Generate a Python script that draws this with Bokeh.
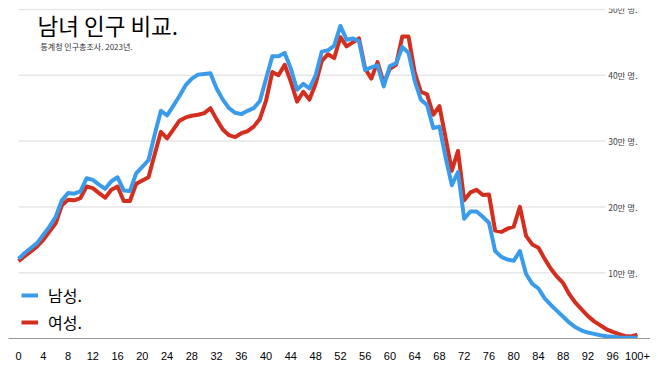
from bokeh.plotting import figure
from bokeh.models import Range1d, FixedTicker, Legend, LegendItem, Label, ColumnDataSource
from bokeh.core.properties import value
from bokeh.embed import file_html
from bokeh.resources import INLINE

# ---- data (population by single year of age, unit: 만 명) ----
ages = list(range(0, 101))
male = [12.1, 13.0, 13.75, 14.5, 15.75, 17.0, 18.5, 21.0, 22.1, 22.0,
        22.35, 24.35, 24.1, 23.4, 22.75, 23.9, 24.5, 22.5, 22.4, 25.1,
        26.1, 27.1, 31.0, 34.6, 33.9, 35.35, 36.85, 38.5, 39.5, 40.1,
        40.2, 40.3, 38.0, 36.3, 35.0, 34.3, 34.1, 34.6, 35.0, 36.1,
        39.5, 42.9, 42.9, 43.4, 41.0, 37.8, 38.7, 38.0, 40.0, 43.6,
        43.8, 44.5, 47.5, 45.4, 45.6, 45.2, 40.8, 41.2, 41.5, 38.3,
        41.4, 41.8, 44.3, 43.4, 39.2, 36.3, 35.5, 32.0, 32.2, 27.5,
        23.3, 25.3, 18.2, 19.3, 19.3, 18.5, 17.6, 13.3, 12.4, 12.0,
        11.8, 13.3, 9.8, 8.3, 7.6, 6.1, 5.1, 4.2, 3.3, 2.4,
        1.7, 1.2, 0.9, 0.7, 0.5, 0.35, 0.25, 0.15, 0.12, 0.1,
        0.1]
female = [11.75, 12.5, 13.25, 14.0, 15.0, 16.25, 17.5, 20.25, 21.1, 21.0,
          21.35, 23.1, 22.85, 22.1, 21.4, 22.6, 23.1, 20.9, 20.9, 23.5,
          24.0, 24.5, 28.0, 31.4, 30.4, 31.75, 33.1, 33.6, 33.85, 34.0,
          34.25, 35.0, 33.3, 31.75, 30.9, 30.6, 31.2, 31.5, 32.2, 33.4,
          36.2, 40.5, 40.0, 41.6, 39.0, 36.0, 37.5, 36.3, 38.7, 42.2,
          43.2, 42.6, 45.8, 44.4, 45.0, 45.6, 41.0, 39.5, 42.0, 38.8,
          41.0, 41.6, 45.9, 45.9, 40.5, 37.5, 37.1, 34.0, 35.3, 30.5,
          25.5, 28.5, 21.0, 22.2, 22.6, 21.8, 21.9, 16.4, 16.2, 16.7,
          17.0, 20.0, 15.6, 14.3, 13.8, 12.1, 10.6, 9.4, 8.4, 6.7,
          5.4, 4.4, 3.4, 2.6, 2.0, 1.4, 1.0, 0.65, 0.4, 0.3,
          0.6]
series_labels = ["남성.", "여성."]
x_ticks = list(range(0, 97, 4)) + [100]
x_tick_labels = [str(t) for t in range(0, 97, 4)] + ["100+"]
y_ticks = [10, 20, 30, 40, 50]
y_tick_labels = ["10만 명.", "20만 명.", "30만 명.", "40만 명.", "50만 명."]
title_text = "남녀 인구 비교."
subtitle_text = "통계청 인구총조사. 2023년."

BLUE = "#3A9BEA"
RED = "#D42E1F"
KR = "Noto Sans CJK KR"

p = figure(width=650, height=362, output_backend="svg", toolbar_location=None,
           x_range=Range1d(-1.62, 102.1), y_range=Range1d(0, 50.15),
           y_axis_location=None, min_border_left=8, min_border_right=0,
           min_border_top=8, min_border_bottom=21)
p.outline_line_color = None
p.xgrid.visible = False
p.ygrid.visible = False
p.background_fill_color = "white"
p.border_fill_color = "white"

# grid lines (stop before the in-plot labels)
p.segment(x0=0, x1=94.8, y0=y_ticks, y1=y_ticks, line_color="#e6e6e6", line_width=1.5)

# y labels inside the plot on the right
ysrc = ColumnDataSource(dict(x=[100] * len(y_ticks), y=y_ticks, t=y_tick_labels))
p.text(x="x", y="y", text="t", source=ysrc, text_align="right", text_baseline="middle",
       text_font_size="8.5px", text_color="#444444", text_font=value(KR))

# x axis
ax = p.xaxis[0]
ax.ticker = FixedTicker(ticks=x_ticks)
ax.major_label_overrides = {t: l for t, l in zip(x_ticks, x_tick_labels)}
ax.axis_line_color = "#999999"
ax.axis_line_width = 1.2
ax.major_tick_line_color = None
ax.minor_tick_line_color = None
ax.major_label_text_font_size = "11px"
ax.major_label_text_color = "black"
ax.major_label_text_font = "Liberation Sans"
ax.major_label_standoff = 7

# lines
r_f = p.line(ages, female, line_color=RED, line_width=4, line_join="round")
r_m = p.line(ages, male, line_color=BLUE, line_width=4, line_join="round")

legend = Legend(items=[LegendItem(label=series_labels[0], renderers=[r_m]),
                       LegendItem(label=series_labels[1], renderers=[r_f])],
                location=(13, 4), margin=0, padding=0, spacing=3,
                glyph_width=17, glyph_height=20, label_height=20, label_standoff=10,
                label_text_font=KR, label_text_font_size="16px", label_text_color="black",
                background_fill_alpha=0, border_line_alpha=0)
p.add_layout(legend)

p.add_layout(Label(x=3.07, y=47.7, text=title_text, text_font=KR, text_font_size="22.5px",
                   text_color="black", text_baseline="middle"))
p.add_layout(Label(x=3.55, y=44.4, text=subtitle_text, text_font=KR, text_font_size="8px",
                   text_color="#333333", text_baseline="middle"))

open("out.html", "w").write(file_html(p, INLINE, title="남녀 인구 비교"))
